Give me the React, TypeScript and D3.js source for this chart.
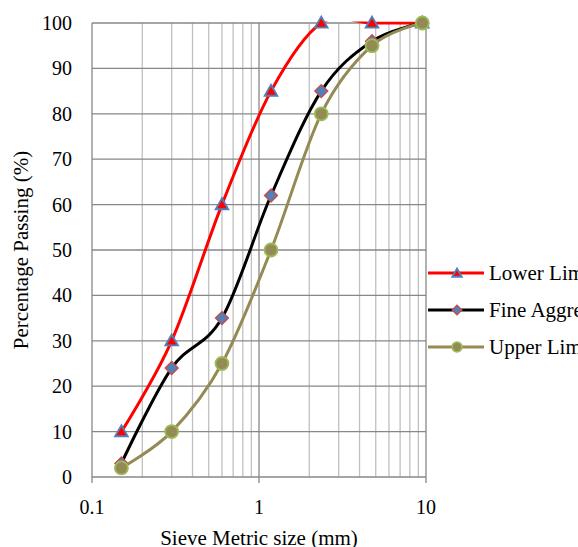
import * as d3 from 'd3';
import React, { useRef, useEffect } from 'react';

const sieveSizes = [0.15, 0.3, 0.6, 1.18, 2.36, 4.75, 9.5];
const lowerLimit = [10, 30, 60, 85, 100, 100, 100];
const fineAggregate = [3, 24, 35, 62, 85, 96, 100];
const upperLimit = [2, 10, 25, 50, 80, 95, 100];
const yTicks = [0, 10, 20, 30, 40, 50, 60, 70, 80, 90, 100];
const xTicks = [0.1, 1, 10];
const seriesNames = ['Lower Limit', 'Fine Aggregate', 'Upper Limit'];

function App(): any {
  const ref = useRef(null);
  const width = 578;
  const height = 547;
  const margin = { top: 23, right: 152, bottom: 70, left: 92 };
  const font = '"Liberation Serif", "Times New Roman", serif';

  useEffect(() => {
    const svg = d3.select(ref.current);
    svg.selectAll('*').remove();

    const x = d3.scaleLog().domain([0.1, 10]).range([margin.left, width - margin.right]);
    const y = d3.scaleLinear().domain([0, 100]).range([height - margin.bottom, margin.top]);

    const g = svg.append('g');

    // minor vertical grid
    const minor: number[] = [];
    [0.1, 1].forEach((base) => {
      for (let i = 2; i <= 9; i++) minor.push(base * i);
    });
    g.selectAll('.minor')
      .data(minor)
      .enter()
      .append('line')
      .attr('x1', (d) => x(d))
      .attr('x2', (d) => x(d))
      .attr('y1', y(0))
      .attr('y2', y(100))
      .attr('stroke', '#c0c0c0')
      .attr('stroke-width', 1.3);

    // horizontal grid
    g.selectAll('.hgrid')
      .data(yTicks)
      .enter()
      .append('line')
      .attr('x1', x(0.1))
      .attr('x2', x(10))
      .attr('y1', (d) => y(d))
      .attr('y2', (d) => y(d))
      .attr('stroke', '#878787')
      .attr('stroke-width', 1.3);

    // major vertical grid + ticks
    g.selectAll('.major')
      .data(xTicks)
      .enter()
      .append('line')
      .attr('x1', (d) => x(d))
      .attr('x2', (d) => x(d))
      .attr('y1', y(0) + 6)
      .attr('y2', y(100))
      .attr('stroke', '#878787')
      .attr('stroke-width', 1.3);

    // y labels
    g.selectAll('.ylab')
      .data(yTicks)
      .enter()
      .append('text')
      .attr('x', 72)
      .attr('y', (d) => y(d))
      .attr('dy', '0.35em')
      .attr('text-anchor', 'end')
      .attr('font-family', font)
      .attr('font-size', 20)
      .attr('fill', '#000')
      .text((d) => String(d));

    // x labels
    g.selectAll('.xlab')
      .data(xTicks)
      .enter()
      .append('text')
      .attr('x', (d) => x(d))
      .attr('y', 514)
      .attr('text-anchor', 'middle')
      .attr('font-family', font)
      .attr('font-size', 20)
      .attr('fill', '#000')
      .text((d) => String(d));

    // axis titles
    g.append('text')
      .attr('x', x(1))
      .attr('y', 545)
      .attr('text-anchor', 'middle')
      .attr('font-family', font)
      .attr('font-size', 21)
      .text('Sieve Metric size (mm)');

    g.append('text')
      .attr('transform', 'translate(28,' + (margin.top + height - margin.bottom) / 2 + ') rotate(-90)')
      .attr('text-anchor', 'middle')
      .attr('font-family', font)
      .attr('font-size', 21)
      .text('Percentage Passing (%)');

    svg.append('clipPath')
      .attr('id', 'plotclip')
      .append('rect')
      .attr('x', margin.left)
      .attr('y', margin.top - 1.5)
      .attr('width', width - margin.left - margin.right)
      .attr('height', height - margin.top - margin.bottom + 1.5);

    const line = d3.line<number>()
      .x((d, i) => x(sieveSizes[i]))
      .y((d) => y(d))
      .curve(d3.curveCardinal.tension(0));

    const series = [
      { values: lowerLimit, color: '#ff0000', marker: 'triangle' },
      { values: fineAggregate, color: '#000000', marker: 'diamond' },
      { values: upperLimit, color: '#948a54', marker: 'circle' },
    ];

    const drawMarker = (sel: any, kind: string, cx: number, cy: number, s: number) => {
      if (kind === 'triangle') {
        sel.append('path')
          .attr('d', d3.symbol().type(d3.symbolTriangle).size(70 * s * s)())
          .attr('transform', 'translate(' + cx + ',' + (cy + 1) + ')')
          .attr('fill', '#ff0000')
          .attr('stroke', '#4f81bd')
          .attr('stroke-width', 1.8);
      } else if (kind === 'diamond') {
        sel.append('rect')
          .attr('x', -4.5 * s)
          .attr('y', -4.5 * s)
          .attr('width', 9 * s)
          .attr('height', 9 * s)
          .attr('transform', 'translate(' + cx + ',' + cy + ') rotate(45)')
          .attr('fill', '#4f81bd')
          .attr('stroke', '#c0504d')
          .attr('stroke-width', 1.5);
      } else {
        sel.append('circle')
          .attr('cx', cx)
          .attr('cy', cy)
          .attr('r', 6.5 * s)
          .attr('fill', '#948a54')
          .attr('stroke', '#9bbb59')
          .attr('stroke-width', 1.8);
      }
    };

    series.forEach((s) => {
      g.append('path')
        .attr('d', line(s.values))
        .attr('fill', 'none')
        .attr('stroke', s.color)
        .attr('stroke-width', 3)
        .attr('clip-path', 'url(#plotclip)');
      const mg = g.append('g');
      s.values.forEach((v, i) => drawMarker(mg, s.marker, x(sieveSizes[i]), y(v), 1));
    });

    // legend (runs past the right edge, as in the source image)
    const legendY = [273, 310, 347];
    series.forEach((s, i) => {
      g.append('line')
        .attr('x1', 428)
        .attr('x2', 484)
        .attr('y1', legendY[i])
        .attr('y2', legendY[i])
        .attr('stroke', s.color)
        .attr('stroke-width', 3);
      drawMarker(g, s.marker, 457, legendY[i], 0.75);
      g.append('text')
        .attr('x', 489)
        .attr('y', legendY[i])
        .attr('dy', '0.35em')
        .attr('font-family', font)
        .attr('font-size', 21)
        .text(seriesNames[i]);
    });
  }, []);

  return (
    <svg
      ref={ref}
      width={width}
      height={height}
      style={{ position: 'absolute', left: 0, top: 0, background: '#fff' }}
    />
  );
}

export default App;
